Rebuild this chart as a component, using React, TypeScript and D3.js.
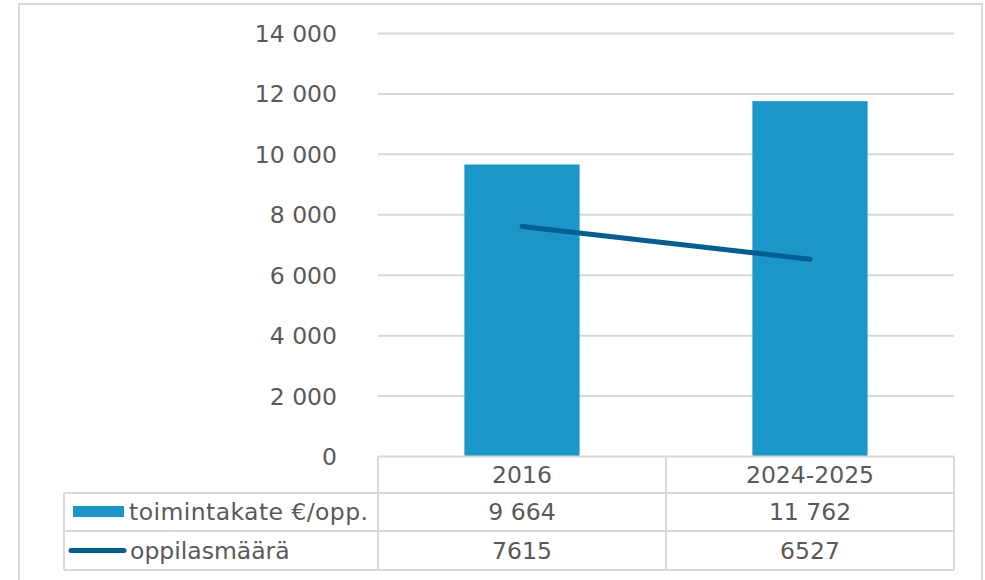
import React from "react";
import * as d3 from "d3";

const categories = ["2016", "2024-2025"];
const costValues = [9664, 11762];
const costLabels = ["9 664", "11 762"];
const pupilValues = [7615, 6527];
const pupilLabels = ["7615", "6527"];
const seriesNames = ["toimintakate €/opp.", "oppilasmäärä"];
const yTicks = [0, 2000, 4000, 6000, 8000, 10000, 12000, 14000];

const W = 985;
const H = 580;
const plotLeft = 378;
const plotRight = 954;
const plotTop = 33.5;
const plotBottom = 456.5;
const tableLeft = 64;
const rowBottoms = [493, 531, 570];

const BAR = "#1b96c8";
const LINE = "#005f92";
const GRID = "#d9d9d9";
const TXT = "#595959";
const FONT = "'DejaVu Sans', Verdana, sans-serif";

function fmt(v: number) {
  const s = d3.format(",")(v);
  return s.replace(/,/g, " ");
}

export default function App() {
  const y = d3.scaleLinear().domain([0, 14000]).range([plotBottom, plotTop]);
  const x = d3
    .scaleBand<string>()
    .domain(categories)
    .range([plotLeft, plotRight])
    .paddingInner(0.6)
    .paddingOuter(0.3);
  const xc = (c: string) => (x(c) as number) + x.bandwidth() / 2;
  const colBand = d3.scaleBand<string>().domain(categories).range([plotLeft, plotRight]);

  const line = d3
    .line<number>()
    .x((_, i) => xc(categories[i]))
    .y((d) => y(d));

  const rowTops = [plotBottom, rowBottoms[0], rowBottoms[1]];
  const rowMid = (i: number) => (rowTops[i] + rowBottoms[i]) / 2;

  return (
    <svg
      width={W}
      height={H}
      style={{ position: "absolute", left: 0, top: 0, background: "#fff" }}
      fontFamily={FONT}
    >
      <rect x={19} y={4} width={963} height={590} fill="#fff" stroke={GRID} strokeWidth={2} />
      {yTicks.map((t) => (
        <g key={t}>
          {t > 0 && (
            <line x1={plotLeft} x2={plotRight} y1={y(t)} y2={y(t)} stroke={GRID} strokeWidth={2} />
          )}
          <text
            x={337}
            y={y(t)}
            dy="0.36em"
            textAnchor="end"
            fontSize={23.5}
            fill={TXT}
          >
            {fmt(t)}
          </text>
        </g>
      ))}
      {categories.map((c, i) => (
        <rect
          key={c}
          x={x(c)}
          y={y(costValues[i])}
          width={x.bandwidth()}
          height={y(0) - y(costValues[i])}
          fill={BAR}
        />
      ))}
      <path
        d={line(pupilValues) || ""}
        fill="none"
        stroke={LINE}
        strokeWidth={5}
        strokeLinecap="round"
      />
      {/* data table */}
      <g stroke={GRID} strokeWidth={2} fill="none">
        <line x1={plotLeft} x2={plotRight} y1={plotBottom} y2={plotBottom} />
        <line x1={tableLeft} x2={plotRight} y1={rowBottoms[0]} y2={rowBottoms[0]} />
        <line x1={tableLeft} x2={plotRight} y1={rowBottoms[1]} y2={rowBottoms[1]} />
        <line x1={tableLeft} x2={plotRight} y1={rowBottoms[2]} y2={rowBottoms[2]} />
        <line x1={tableLeft} x2={tableLeft} y1={rowBottoms[0]} y2={rowBottoms[2]} />
        <line x1={plotLeft} x2={plotLeft} y1={plotBottom} y2={rowBottoms[2]} />
        {categories.map((c) => (
          <line
            key={c}
            x1={(colBand(c) as number) + colBand.bandwidth()}
            x2={(colBand(c) as number) + colBand.bandwidth()}
            y1={plotBottom}
            y2={rowBottoms[2]}
          />
        ))}
      </g>
      {categories.map((c, i) => {
        const cx = (colBand(c) as number) + colBand.bandwidth() / 2;
        return (
          <g key={c} fontSize={23.5} fill={TXT} textAnchor="middle">
            <text x={cx} y={rowMid(0)} dy="0.36em">{c}</text>
            <text x={cx} y={rowMid(1)} dy="0.36em">{costLabels[i]}</text>
            <text x={cx} y={rowMid(2)} dy="0.36em">{pupilLabels[i]}</text>
          </g>
        );
      })}
      <rect x={73} y={506} width={51} height={11} fill={BAR} />
      <line x1={71} x2={124} y1={550.5} y2={550.5} stroke={LINE} strokeWidth={5} strokeLinecap="round" />
      <text
        x={129}
        y={rowMid(1)}
        dy="0.36em"
        fontSize={23.5}
        fill={TXT}
        textLength={239}
        lengthAdjust="spacing"
      >
        {seriesNames[0]}
      </text>
      <text x={130} y={rowMid(2)} dy="0.36em" fontSize={23.5} fill={TXT}>{seriesNames[1]}</text>
    </svg>
  );
}
